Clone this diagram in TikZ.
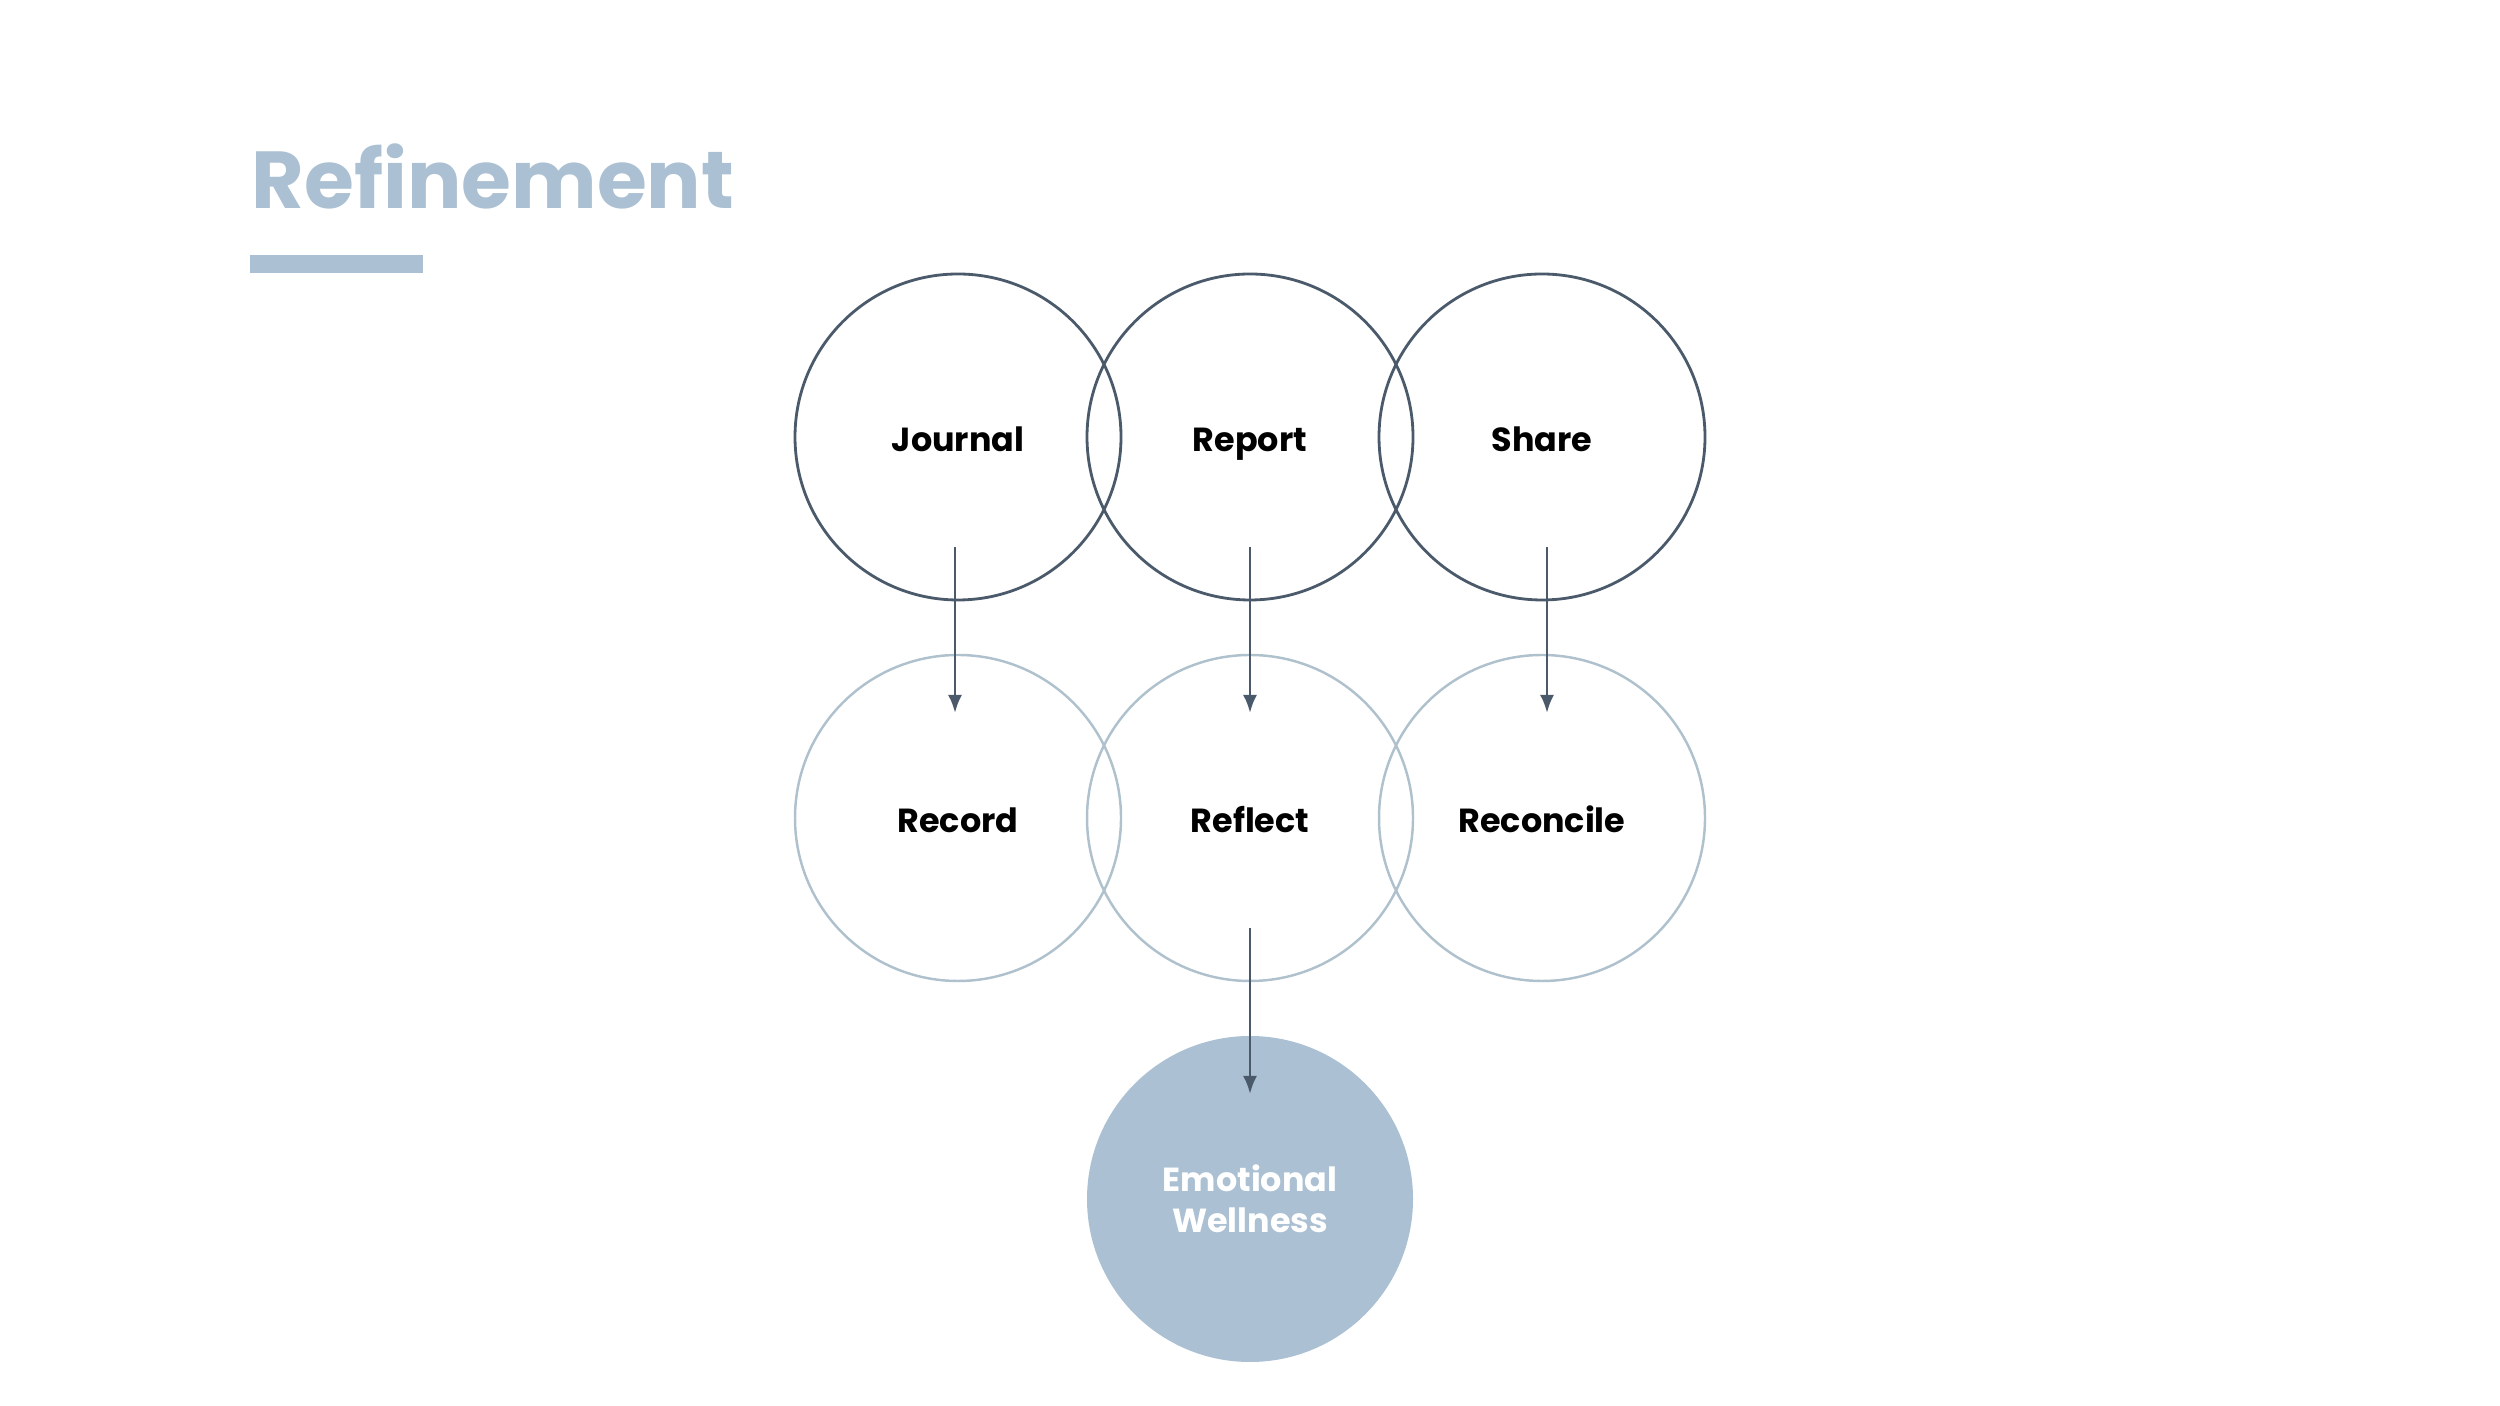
\documentclass[tikz,border=0pt]{standalone}
\usepackage{fontspec}
\setmainfont{Poppins}
\usepackage{tikz}
\usetikzlibrary{positioning,arrows.meta}
\definecolor{slate}{HTML}{4B5A6B}
\definecolor{mist}{HTML}{ABC0D2}
\definecolor{haze}{HTML}{AFC1CD}
\begin{document}
\begin{tikzpicture}[top/.style={circle,draw=slate,line width=0.8pt,minimum size=3.26cm,text height=2ex,text depth=0.5ex,font=\bfseries\fontsize{9.5}{11.5}\selectfont},
  low/.style={top,draw=haze,line width=0.7pt},
  goal/.style={circle,fill=mist,minimum size=3.26cm,text=white,align=center,font=\bfseries\fontsize{9.5}{11.7}\selectfont},
  flow/.style={draw=slate,line width=0.8pt,-{Latex[length=1.8mm,width=1.4mm]}},
  node distance=3.81cm and 2.92cm, on grid]
\useasboundingbox (0,0) rectangle (25,14.06);
\node [anchor=base west,inner sep=0pt,text=mist,font=\bfseries\fontsize{23}{28}\selectfont] (title) at (2.51,11.97) {Refinement};
\fill [mist] (2.5,11.33) rectangle (4.23,11.51);
\node [top] (journal) at (9.58,9.69) {Journal};
\node [top,right=of journal] (report) {Report};
\node [top,right=of report] (share) {Share};
\node [low,below=of journal] (record) {Record};
\node [low,below=of report] (reflect) {Reflect};
\node [low,below=of share] (reconcile) {Reconcile};
\node [goal,below=of reflect] (wellness) {Emotional\\Wellness};
\draw [flow] ([xshift=-0.03cm,yshift=-1.1cm]journal.center) -- ([xshift=-0.03cm,yshift=1.05cm]record.center);
\draw [flow] ([yshift=-1.1cm]report.center) -- ([yshift=1.05cm]reflect.center);
\draw [flow] ([xshift=0.05cm,yshift=-1.1cm]share.center) -- ([xshift=0.05cm,yshift=1.05cm]reconcile.center);
\draw [flow] ([yshift=-1.1cm]reflect.center) -- ([yshift=1.05cm]wellness.center);
\end{tikzpicture}
\end{document}
